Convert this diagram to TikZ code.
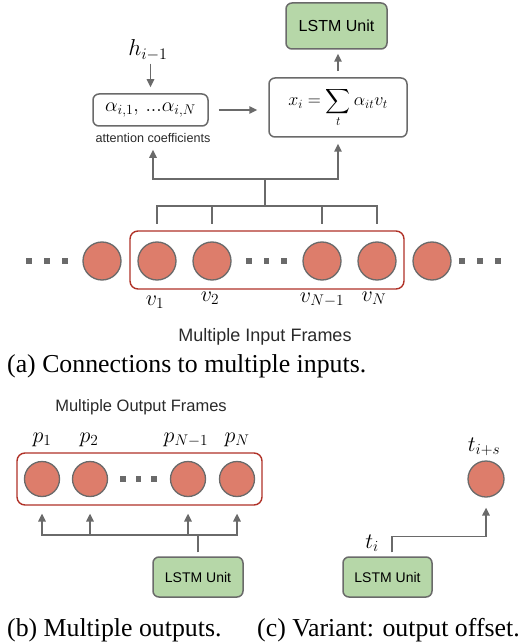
\RequirePackage{fix-cm}
\documentclass[tikz,border=0pt]{standalone}
\usepackage{amsmath}
\usepackage[no-math]{fontspec}
\newfontfamily\sansf{Liberation Sans}
\newfontfamily\capf{Liberation Serif}
\usetikzlibrary{arrows.meta,calc}
\definecolor{lnc}{HTML}{6A6A6A}
\definecolor{lgreen}{HTML}{B6D7A8}
\definecolor{salmon}{HTML}{DD7D6B}
\definecolor{fred}{HTML}{B03228}
\definecolor{txt}{HTML}{2A2A2A}
\begin{document}
\begin{tikzpicture}[x=1pt,y=-1pt,
  line/.style={draw=lnc,line width=1.5pt},
  arr/.style={line,-{Triangle[length=8pt,width=7.5pt]}},
  box/.style={draw=lnc,line width=1.5pt,rounded corners=6pt,fill=white,inner sep=0pt},
  lstm/.style={box,fill=lgreen,text=black},
  frame/.style={draw=fred,line width=1.4pt,rounded corners=8pt},
  ball/.style={circle,fill=salmon,draw=lnc,line width=1.3pt,inner sep=0pt},
  dotsq/.style={rectangle,fill=lnc,inner sep=0pt,minimum size=5.5pt},
  lab/.style={inner sep=0pt,font=\fontsize{22}{26}\selectfont},
  sanslab/.style={inner sep=0pt,text=txt},
  capt/.style={anchor=base west,inner sep=0pt,font=\capf\fontsize{25.8}{30}\selectfont}
]
\fill[white] (0,0) rectangle (528,644);
\useasboundingbox (0,0) rectangle (528,644);

% ---------- (a) top part ----------
\node[lstm,minimum width=101pt,minimum height=46pt,font=\sansf\fontsize{16}{19}\selectfont] (lstmA) at (336.5,26) {LSTM Unit};
\node[lab,font=\fontsize{23}{27}\selectfont] (h) at (148,50) {$h_{i-1}$};
\node[box,minimum width=115pt,minimum height=32pt,font=\fontsize{20}{24}\selectfont] (alpha) at (150.5,110) {$\alpha_{i,1},\,...\alpha_{i,N}$};
\node[sanslab,font=\sansf\fontsize{12.6}{15}\selectfont] (att) at (153,138) {attention coefficients};
\node[box,minimum width=138pt,minimum height=59pt,font=\fontsize{18}{22}\selectfont] (sum) at (338,107.5) {$\displaystyle x_i = \sum_t \alpha_{it} v_t$};

\draw[arr,shorten <=3pt,shorten >=6pt] (alpha.north |- h.south) -- (alpha.north);
\draw[arr,shorten <=10pt,shorten >=11pt] (alpha.east) -- (sum.west |- alpha.east);
\draw[arr,shorten <=6pt,shorten >=4pt] (sum.north) -- (sum.north |- lstmA.south);

\coordinate (J1) at (265,179);
\coordinate (J2) at (265,206);

% input frames
\node[ball,minimum size=38pt] (c0) at (102,261) {};
\node[ball,minimum size=38pt] (c1) at (157,261) {};
\node[ball,minimum size=38pt] (c2) at (212,261) {};
\node[ball,minimum size=38pt] (c3) at (322,261) {};
\node[ball,minimum size=38pt] (c4) at (377,261) {};
\node[ball,minimum size=38pt] (c5) at (432,261) {};
\draw[frame] (130,231) rectangle (404,289);
\node[dotsq] (dl1) at (29,261) {};
\node[dotsq] (dl2) at (47,261) {};
\node[dotsq] (dl3) at (65,261) {};
\node[dotsq] (dm1) at (249,261) {};
\node[dotsq] (dm2) at (266.5,261) {};
\node[dotsq] (dm3) at (284,261) {};
\node[dotsq] (dr1) at (462,261) {};
\node[dotsq] (dr2) at (480,261) {};
\node[dotsq] (dr3) at (498,261) {};

\draw[arr,shorten >=7pt] (J1) -| (att.south);
\draw[arr,shorten >=6pt] (J1) -| (sum.south);
\draw[line] (J1) -- (J2);
\draw[line,shorten >=17pt] (J2) -| (c1);
\draw[line,shorten >=17pt] (J2) -| (c2);
\draw[line,shorten >=17pt] (J2) -| (c3);
\draw[line,shorten >=17pt] (J2) -| (c4);

\node[lab] (v1) at (155,302) {$v_1$};
\node[lab] (v2) at (210,298) {$v_2$};
\node[lab] (v3) at (322,300) {$v_{N-1}$};
\node[lab] (v4) at (374,298) {$v_N$};
\node[sanslab,font=\sansf\fontsize{18}{21}\selectfont] (mif) at (265,337) {Multiple Input Frames};
\node[capt] (capa) at (7,372) {(a) Connections to multiple inputs.};

% ---------- (b) ----------
\node[sanslab,font=\sansf\fontsize{16.5}{19}\selectfont] (mof) at (141,407) {Multiple Output Frames};
\node[lab] (p1) at (42,440) {$p_1$};
\node[lab] (p2) at (89,440) {$p_2$};
\node[lab] (p3) at (186,440) {$p_{N-1}$};
\node[lab] (p4) at (237,440) {$p_N$};
\node[ball,minimum size=35pt] (o1) at (42,479) {};
\node[ball,minimum size=35pt] (o2) at (90,479) {};
\node[ball,minimum size=35pt] (o3) at (188,479) {};
\node[ball,minimum size=35pt] (o4) at (237,479) {};
\draw[frame] (17,453) rectangle (262,505);
\node[dotsq] (db1) at (123,479) {};
\node[dotsq] (db2) at (138.5,479) {};
\node[dotsq] (db3) at (154,479) {};
\node[lstm,minimum width=90pt,minimum height=40pt,font=\sansf\fontsize{14}{17}\selectfont] (lstmB) at (198,577) {LSTM Unit};
\coordinate (J3) at (lstmB.north |- 0,535);
\draw[line,shorten <=4pt] (lstmB.north) -- (J3);
\draw[arr,shorten >=16.5pt] (J3) -| (o1);
\draw[arr,shorten >=16.5pt] (J3) -| (o2);
\draw[arr,shorten >=16.5pt] (J3) -| (o3);
\draw[arr,shorten >=16.5pt] (J3) -| (o4);
\node[capt] (capb) at (7,636) {(b) Multiple outputs.};

% ---------- (c) ----------
\node[ball,minimum size=36pt] (tc) at (486,479) {};
\node[lab] (tis) at (484,447) {$t_{i+s}$};
\node[lstm,minimum width=89pt,minimum height=40pt,font=\sansf\fontsize{14}{17}\selectfont] (lstmC) at (387.5,577) {LSTM Unit};
\node[lab] (ti) at (372,543) {$t_i$};
\coordinate (K0) at ($(lstmC.north)+(4.5,0)$);
\draw[arr,shorten <=4pt,shorten >=10pt] (K0) -- ++(0,-20) -| (tc);
\node[capt] (capc) at (257,636) {(c) Variant: output offset.};
\end{tikzpicture}
\end{document}
